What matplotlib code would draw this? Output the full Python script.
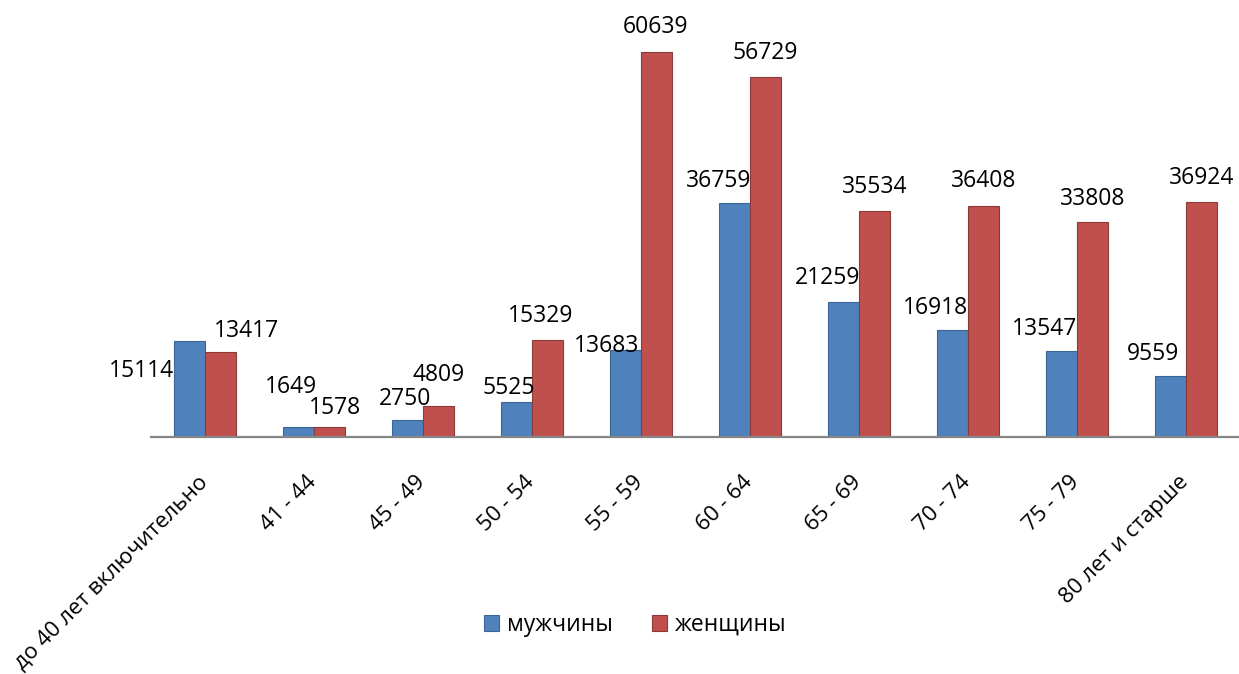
import matplotlib.pyplot as plt
import matplotlib.transforms as transforms
import numpy as np

plt.rcParams['font.family'] = ['Open Sans', 'DejaVu Sans']

categories = ["до 40 лет включительно", "41 - 44", "45 - 49", "50 - 54", "55 - 59",
              "60 - 64", "65 - 69", "70 - 74", "75 - 79", "80 лет и старше"]
men = [15114, 1649, 2750, 5525, 13683, 36759, 21259, 16918, 13547, 9559]
women = [13417, 1578, 4809, 15329, 60639, 56729, 35534, 36408, 33808, 36924]
series_names = ["мужчины", "женщины"]

# label centre offsets from bar top (pixels), as placed in the original
men_label_off = [(-48, -28), (-7, 42), (-2, 23), (-8, 16), (-19, 7),
                 (-16, 25), (-16, 26), (-17, 24), (-17, 24), (-17, 25)]
women_label_off = [(26, 23), (5, 21), (0, 34), (-7, 26), (-1, 27),
                   (0, 26), (0, 27), (0, 27), (0, 26), (0, 27)]

blue, blue_edge = "#4F81BD", "#3A6595"
red, red_edge = "#C0504D", "#8C3A38"
fs = 16.5

W, H = 1239, 674
fig = plt.figure(figsize=(W / 100, H / 100), dpi=100)
ax = fig.add_axes([150.5 / W, 237 / H, 1090 / W, 432 / H])

x = np.arange(len(categories))
w = 1 / 3.5
b1 = ax.bar(x - w / 2, men, w, color=blue, edgecolor=blue_edge, linewidth=0.8, label=series_names[0])
b2 = ax.bar(x + w / 2, women, w, color=red, edgecolor=red_edge, linewidth=0.8, label=series_names[1])

for bars, vals, offs in [(b1, men, men_label_off), (b2, women, women_label_off)]:
    for rect, v, (dx, dy) in zip(bars, vals, offs):
        ax.annotate(str(v), xy=(rect.get_x() + rect.get_width() / 2, v),
                    xytext=(dx, dy - 8.5), textcoords='offset pixels',
                    ha='center', va='baseline', fontsize=fs, annotation_clip=False)

ax.set_xlim(-0.5, len(categories) - 0.5)
ax.set_ylim(0, 68000)
for s in ['top', 'right', 'left']:
    ax.spines[s].set_visible(False)
ax.spines['bottom'].set_color('#868686')
ax.spines['bottom'].set_linewidth(1.6)
ax.set_yticks([])
ax.set_xticks(x)
ax.set_xticklabels(categories, rotation=45, ha='right', rotation_mode='anchor', fontsize=16)
ax.tick_params(axis='x', length=0, pad=25)
shift = transforms.ScaledTranslation(-8 / 100, 0, fig.dpi_scale_trans)
for lbl in ax.get_xticklabels():
    lbl.set_transform(lbl.get_transform() + shift)

fig.legend(loc='center', bbox_to_anchor=(635 / W, 1 - 625 / H), ncol=2, frameon=False,
           fontsize=fs, handlelength=0.65, handleheight=0.65, handletextpad=0.35,
           columnspacing=1.7)

fig.savefig("out.png", dpi=100)
